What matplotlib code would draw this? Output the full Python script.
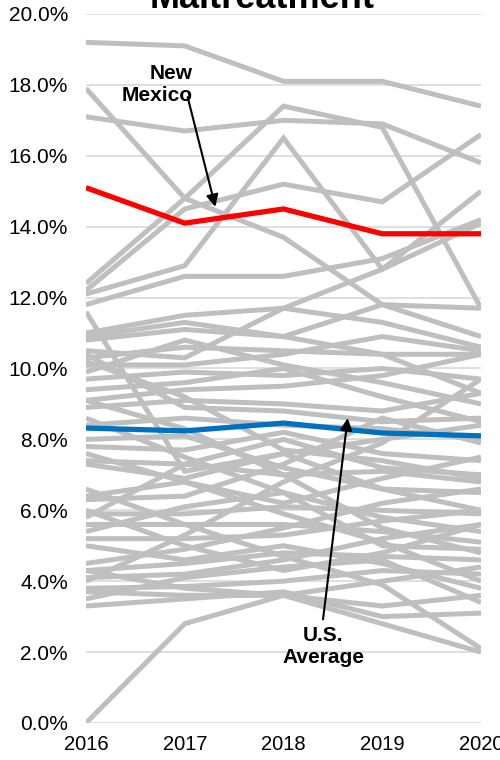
import numpy as np
import matplotlib
matplotlib.use('Agg')
import matplotlib.pyplot as plt
from matplotlib.ticker import PercentFormatter

plt.rcParams['font.family'] = ['Liberation Sans', 'DejaVu Sans']

years = [2016, 2017, 2018, 2019, 2020]

new_mexico = [15.1, 14.1, 14.5, 13.8, 13.8]
us_average = [8.32, 8.24, 8.46, 8.18, 8.10]

# other states, % per year 2016..2020 (rough)
states = [
    [19.2, 19.1, 18.1, 18.1, 17.4],
    [17.1, 16.7, 17.0, 16.9, 15.8],
    [17.9, 14.8, 13.7, 11.8, 10.9],
    [12.4, 14.8, 17.4, 16.8, 11.7],
    [12.2, 14.5, 15.2, 14.7, 16.6],
    [12.1, 12.9, 16.5, 12.8, 15.0],
    [11.8, 12.6, 12.6, 13.1, 14.2],
    [11.6, 7.1, 7.6, 6.6, 6.0],
    [11.0, 11.5, 11.7, 12.8, 14.1],
    [10.9, 11.3, 10.9, 11.8, 11.7],
    [10.8, 11.1, 10.9, 10.4, 9.3],
    [10.5, 10.3, 11.7, 11.3, 10.6],
    [10.3, 10.6, 10.5, 10.4, 10.4],
    [10.1, 10.1, 10.4, 10.9, 10.5],
    [9.9, 10.8, 10.1, 9.6, 9.0],
    [9.7, 9.9, 9.8, 10.0, 9.7],
    [9.4, 9.6, 10.0, 9.2, 8.5],
    [9.1, 9.4, 9.5, 9.8, 10.4],
    [8.9, 9.1, 9.0, 8.8, 9.3],
    [10.4, 8.9, 8.8, 8.5, 8.6],
    [8.0, 8.1, 7.2, 6.6, 6.5],
    [7.8, 7.7, 8.2, 7.6, 7.4],
    [7.4, 7.3, 7.0, 7.1, 6.8],
    [7.3, 6.9, 7.6, 8.0, 8.4],
    [6.3, 6.4, 7.3, 8.6, 7.9],
    [5.9, 5.9, 6.1, 6.0, 5.9],
    [5.6, 5.6, 5.6, 5.4, 5.1],
    [5.4, 6.1, 6.5, 5.0, 4.9],
    [5.2, 5.2, 5.3, 5.7, 6.0],
    [4.5, 4.9, 5.5, 6.2, 6.6],
    [4.3, 4.5, 4.8, 4.7, 4.6],
    [4.1, 4.2, 4.6, 5.2, 5.6],
    [3.8, 3.85, 4.0, 4.3, 4.2],
    [3.7, 3.6, 3.6, 3.3, 3.6],
    [3.3, 3.5, 3.7, 3.0, 3.1],
    [0.0, 2.8, 3.6, 4.0, 4.4],
    [4.3, 3.8, 3.6, 2.8, 2.0],
    [6.6, 5.6, 4.7, 3.9, 2.1],
    [7.6, 6.8, 5.9, 5.1, 4.0],
    [9.1, 8.3, 7.0, 5.5, 4.8],
    [8.6, 7.5, 6.5, 5.8, 5.4],
    [5.8, 7.3, 8.0, 7.2, 7.0],
    [4.0, 5.3, 6.8, 7.9, 9.7],
    [6.0, 5.0, 4.3, 4.8, 5.6],
    [10.2, 9.2, 7.7, 7.4, 6.9],
    [8.4, 8.6, 8.4, 8.3, 8.0],
    [3.5, 4.1, 4.4, 4.6, 3.4],
    [5.0, 4.6, 5.0, 4.5, 3.8],
    [6.4, 6.8, 6.2, 6.9, 7.5],
]

fig = plt.figure(figsize=(5, 7.6), dpi=100)
ax = fig.add_axes([0.172, 0.0487, 0.79, 0.9329])

for s in states:
    ax.plot(years, s, color='#BFBFBF', lw=3.6, solid_capstyle='butt', solid_joinstyle='miter', zorder=2)
ax.plot(years, us_average, color='#0070C0', lw=3.8, solid_capstyle='butt', zorder=3)
ax.plot(years, new_mexico, color='#FF0000', lw=3.8, solid_capstyle='butt', zorder=3)

ax.set_xlim(2016, 2020)
ax.set_ylim(0, 20)
ax.set_yticks(np.arange(0, 21, 2))
ax.set_xticks(years)
ax.yaxis.set_major_formatter(PercentFormatter(decimals=1))
ax.grid(axis='y', color='#D9D9D9', lw=1.2, zorder=0)
ax.set_axisbelow(True)
for sp in ax.spines.values():
    sp.set_visible(False)
ax.tick_params(length=0)
ax.tick_params(axis='y', labelsize=15, pad=13)
ax.tick_params(axis='x', labelsize=14.5, pad=9)

# title sits mostly above the top edge, like the source
fig.text(0.524, 1 - 8 / 760, 'Maltreatment', ha='center', va='baseline',
         fontsize=26, weight='bold')

ax.annotate('New\nMexico', xy=(2017.31, 14.56), xytext=(2017.08, 18.0),
            ha='right', va='center', multialignment='right',
            fontsize=15, weight='bold', zorder=5,
            arrowprops=dict(arrowstyle='-|>', color='black', lw=1.5,
                            mutation_scale=18, shrinkA=0, shrinkB=0,
                            patchA=None, relpos=(0.93, 0.2)))
ax.annotate('U.S.\nAverage', xy=(2018.65, 8.6), xytext=(2018.40, 2.17),
            ha='center', va='center', multialignment='center',
            fontsize=15, weight='bold', zorder=5,
            arrowprops=dict(arrowstyle='-|>', color='black', lw=1.5,
                            mutation_scale=18, shrinkA=0, shrinkB=0,
                            patchA=None, relpos=(0.5, 1.15)))

fig.savefig('out.png', dpi=100)
